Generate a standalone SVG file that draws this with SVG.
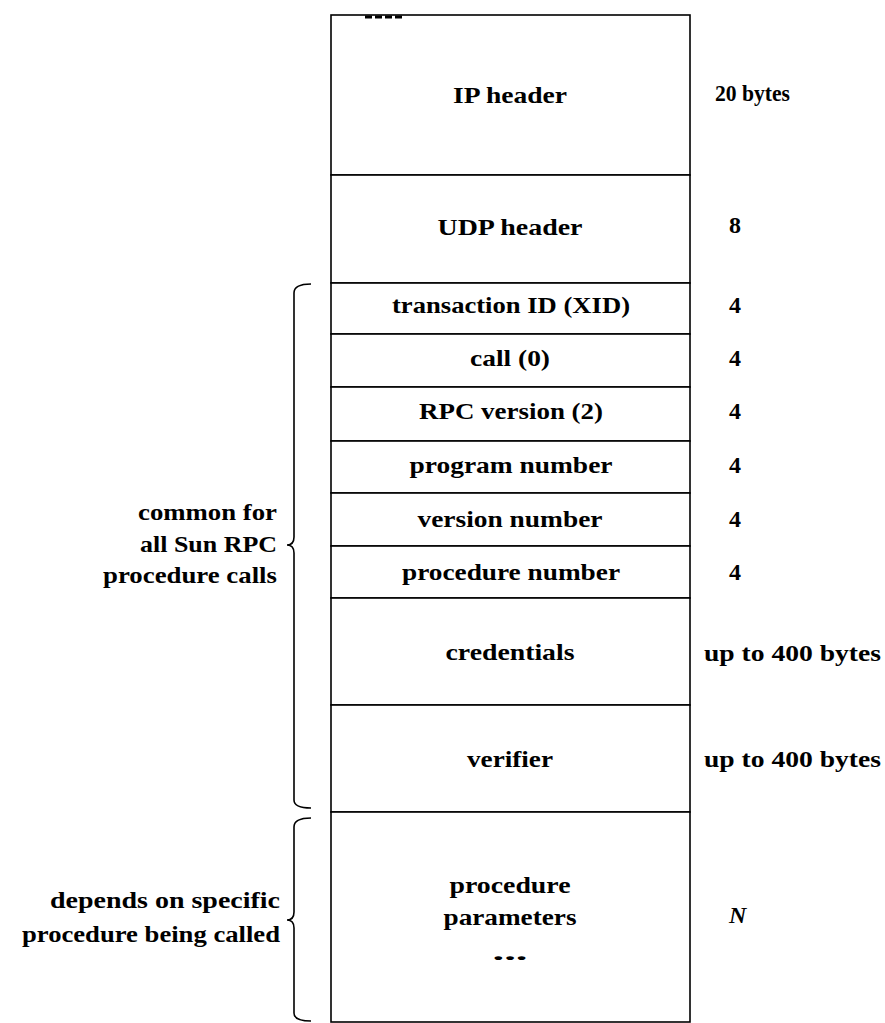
<svg xmlns="http://www.w3.org/2000/svg" width="885" height="1023" viewBox="0 0 885 1023">
<style>
text{font-family:"Liberation Serif","DejaVu Serif",serif;font-weight:bold;font-size:24px;fill:#000}
.c{text-anchor:middle}
.e{text-anchor:end}
.cell{fill:#fff;stroke:#000;stroke-width:1.6}
.brace{fill:none;stroke:#000;stroke-width:1.6}
</style>
<rect x="0" y="0" width="885" height="1023" fill="#fff"/>
<g id="ip-header">
<rect class="cell" x="331" y="15" width="359" height="160"/>
<path d="M365,17 H402" stroke="#000" stroke-width="3" stroke-dasharray="7,3"/>
<text class="c" x="510" y="103" textLength="114" lengthAdjust="spacingAndGlyphs">IP header</text>
<text x="715" y="101" textLength="75" lengthAdjust="spacingAndGlyphs">20 bytes</text>
</g>
<g id="udp-header">
<rect class="cell" x="331" y="175" width="359" height="108"/>
<text class="c" x="510" y="235" textLength="145" lengthAdjust="spacingAndGlyphs">UDP header</text>
<text x="729" y="233">8</text>
</g>
<g id="xid">
<rect class="cell" x="331" y="283" width="359" height="51"/>
<text class="c" x="511" y="313" textLength="238" lengthAdjust="spacingAndGlyphs">transaction ID (XID)</text>
<text x="729" y="313">4</text>
</g>
<g id="call">
<rect class="cell" x="331" y="334" width="359" height="53"/>
<text class="c" x="510" y="366" textLength="80" lengthAdjust="spacingAndGlyphs">call (0)</text>
<text x="729" y="366">4</text>
</g>
<g id="rpc-version">
<rect class="cell" x="331" y="387" width="359" height="54"/>
<text class="c" x="511" y="419" textLength="184" lengthAdjust="spacingAndGlyphs">RPC version (2)</text>
<text x="729" y="419">4</text>
</g>
<g id="program-number">
<rect class="cell" x="331" y="441" width="359" height="52"/>
<text class="c" x="511" y="473" textLength="203" lengthAdjust="spacingAndGlyphs">program number</text>
<text x="729" y="473">4</text>
</g>
<g id="version-number">
<rect class="cell" x="331" y="493" width="359" height="53"/>
<text class="c" x="510" y="527" textLength="185" lengthAdjust="spacingAndGlyphs">version number</text>
<text x="729" y="527">4</text>
</g>
<g id="procedure-number">
<rect class="cell" x="331" y="546" width="359" height="52"/>
<text class="c" x="511" y="580" textLength="218" lengthAdjust="spacingAndGlyphs">procedure number</text>
<text x="729" y="580">4</text>
</g>
<g id="credentials">
<rect class="cell" x="331" y="598" width="359" height="107"/>
<text class="c" x="510" y="660" textLength="129" lengthAdjust="spacingAndGlyphs">credentials</text>
<text x="704" y="661" textLength="177" lengthAdjust="spacingAndGlyphs">up to 400 bytes</text>
</g>
<g id="verifier">
<rect class="cell" x="331" y="705" width="359" height="107"/>
<text class="c" x="510" y="767" textLength="86" lengthAdjust="spacingAndGlyphs">verifier</text>
<text x="704" y="767" textLength="177" lengthAdjust="spacingAndGlyphs">up to 400 bytes</text>
</g>
<g id="procedure-parameters">
<rect class="cell" x="331" y="812" width="359" height="210"/>
<text class="c" x="510" y="893" textLength="121" lengthAdjust="spacingAndGlyphs">procedure</text>
<text class="c" x="510" y="925" textLength="133" lengthAdjust="spacingAndGlyphs">parameters</text>
<text class="c" x="510" y="960" textLength="35" lengthAdjust="spacingAndGlyphs">...</text>
<text x="729" y="923" font-style="italic">N</text>
</g>
<g id="connectors">
<path class="brace" d="M311,284 Q294,284 294,293 L294,537 Q294,545 287,545 Q294,545 294,553 L294,800 Q294,808 311,808"/>
<path class="brace" d="M311,818 Q294,818 294,827 L294,912 Q294,920 287,920 Q294,920 294,928 L294,1013 Q294,1021 311,1021"/>
</g>
<g id="label-common">
<text class="e" x="277" y="520" textLength="139" lengthAdjust="spacingAndGlyphs">common for</text>
<text class="e" x="277" y="552" textLength="137" lengthAdjust="spacingAndGlyphs">all Sun RPC</text>
<text class="e" x="277" y="583" textLength="174" lengthAdjust="spacingAndGlyphs">procedure calls</text>
</g>
<g id="label-depends">
<text class="e" x="280" y="908" textLength="230" lengthAdjust="spacingAndGlyphs">depends on specific</text>
<text class="e" x="280" y="942" textLength="258" lengthAdjust="spacingAndGlyphs">procedure being called</text>
</g>
</svg>
